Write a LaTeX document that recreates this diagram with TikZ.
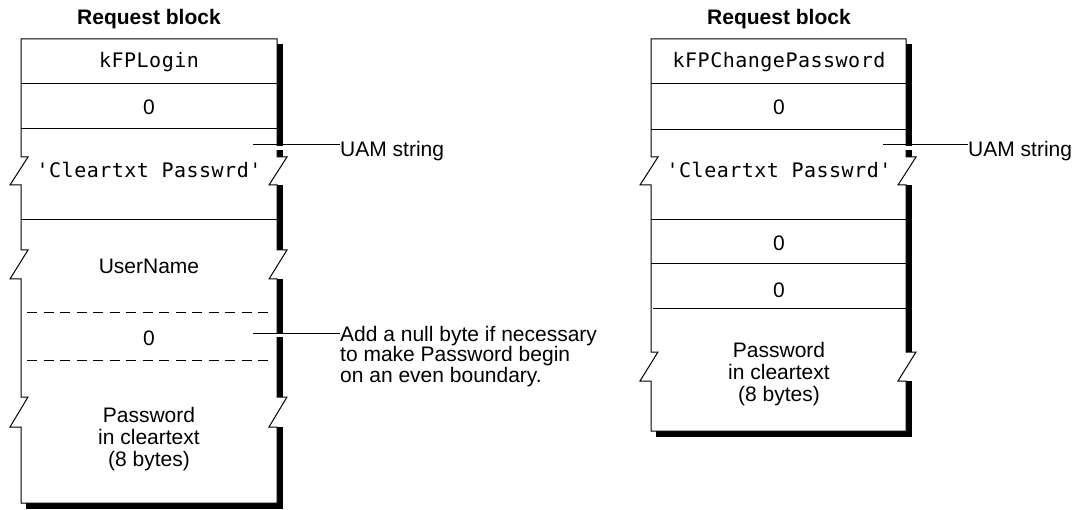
\documentclass[tikz,border=0pt]{standalone}
\usepackage{fontspec}
\setmainfont{Liberation Sans}
\newfontfamily\monofont[LetterSpace=2.5]{DejaVu Sans Mono}

\tikzset{
  lbl/.style={font=\fontsize{21}{22}\selectfont, inner sep=0pt},
  mono/.style={font=\monofont\fontsize{20}{22}\selectfont, inner sep=0pt},
  heading/.style={font=\bfseries\fontsize{21}{22}\selectfont, inner sep=0pt},
  note/.style={font=\fontsize{21}{19.5}\selectfont, inner sep=0pt, align=left},
  rowline/.style={line width=1pt},
  dashrow/.style={line width=1pt, dash pattern=on 10pt off 6.5pt},
  outline/.style={line width=1pt, fill=white, line join=miter},
  leader/.style={line width=1pt},
}

\begin{document}
\begin{tikzpicture}[x=1pt,y=-1pt]
\useasboundingbox (0,0) rectangle (1078,510);

% ---------- login request block ----------
% drop shadow
\fill (277,44) rectangle (283,157);
\fill (277,185) rectangle (283,250);
\fill (277,279) rectangle (283,397);
\fill (277,427) rectangle (283,509);
\fill (26,503) rectangle (283,509);
% outline with break marks
\draw[outline] (21,39) -- (277,39)
  -- (277,157) -- (287,157) -- (269,185) -- (277,185)
  -- (277,250) -- (287,250) -- (269,279) -- (277,279)
  -- (277,397) -- (287,397) -- (269,427) -- (277,427)
  -- (277,503) -- (21,503)
  -- (21,427) -- (10,427) -- (28,397) -- (21,397)
  -- (21,279) -- (10,279) -- (28,250) -- (21,250)
  -- (21,185) -- (10,185) -- (28,157) -- (21,157) -- cycle;
% field separators
\draw[rowline] (21,84) -- (277,84);
\draw[rowline] (21,129) -- (277,129);
\draw[rowline] (21,220) -- (277,220);
\draw[dashrow] (27,313) -- (273,313);
\draw[dashrow] (27,360) -- (273,360);

\node[heading, anchor=base] (titleL) at (149,25) {Request block};
\node[mono, anchor=base] (cmdL) at (149,68) {kFPLogin};
\node[lbl, anchor=base] (zeroL) at (149,115) {0};
\node[mono, anchor=base] (uamstrL) at (149,178) {'Cleartxt Passwrd'};
\node[lbl, anchor=base] (userL) at (149,274) {UserName};
\node[lbl, anchor=base] (padL) at (149,345) {0};
\node[lbl, anchor=north, align=center] (pwdL) at (149,407)
  {Password\\in cleartext\\(8 bytes)};

% callouts
\node[lbl, anchor=base west] (uamL) at (340,157) {UAM string};
\node[note, anchor=north west] (nullnote) at (340,326)
  {Add a null byte if necessary\\to make Password begin\\on an even boundary.};
\coordinate (uamLfrom) at (253,145);
\coordinate (padfrom) at (253,333);
\fill[white] (275,146) rectangle (285,150);
\fill[white] (275,334) rectangle (285,337);
\draw[leader] (uamLfrom) -- (uamLfrom -| uamL.west);
\draw[leader] (padfrom) -- (padfrom -| nullnote.west);

% ---------- change-password request block ----------
\fill (906,44) rectangle (912,157);
\fill (906,185) rectangle (912,352);
\fill (906,381) rectangle (912,437);
\fill (656,431) rectangle (912,437);
\draw[outline] (651,39) -- (906,39)
  -- (906,157) -- (916,157) -- (898,185) -- (906,185)
  -- (906,352) -- (916,352) -- (898,381) -- (906,381)
  -- (906,431) -- (651,431)
  -- (651,381) -- (640,381) -- (658,352) -- (651,352)
  -- (651,185) -- (640,185) -- (658,157) -- (651,157) -- cycle;
\draw[rowline] (651,84) -- (906,84);
\draw[rowline] (651,130) -- (906,130);
\draw[rowline] (651,220) -- (906,220);
\draw[rowline] (651,264) -- (906,264);
\draw[rowline] (653,309) -- (906,309);

\node[heading, anchor=base] (titleR) at (779,25) {Request block};
\node[mono, anchor=base] (cmdR) at (779,68) {kFPChangePassword};
\node[lbl, anchor=base] (zeroR) at (779,115) {0};
\node[mono, anchor=base] (uamstrR) at (779,178) {'Cleartxt Passwrd'};
\node[lbl, anchor=base] (zeroRa) at (779,251) {0};
\node[lbl, anchor=base] (zeroRb) at (779,298) {0};
\node[lbl, anchor=north, align=center] (pwdR) at (779,342)
  {Password\\in cleartext\\(8 bytes)};

\node[lbl, anchor=base west] (uamR) at (968,157) {UAM string};
\coordinate (uamRfrom) at (883,145);
\fill[white] (904,146) rectangle (914,150);
\draw[leader] (uamRfrom) -- (uamRfrom -| uamR.west);
\end{tikzpicture}
\end{document}
